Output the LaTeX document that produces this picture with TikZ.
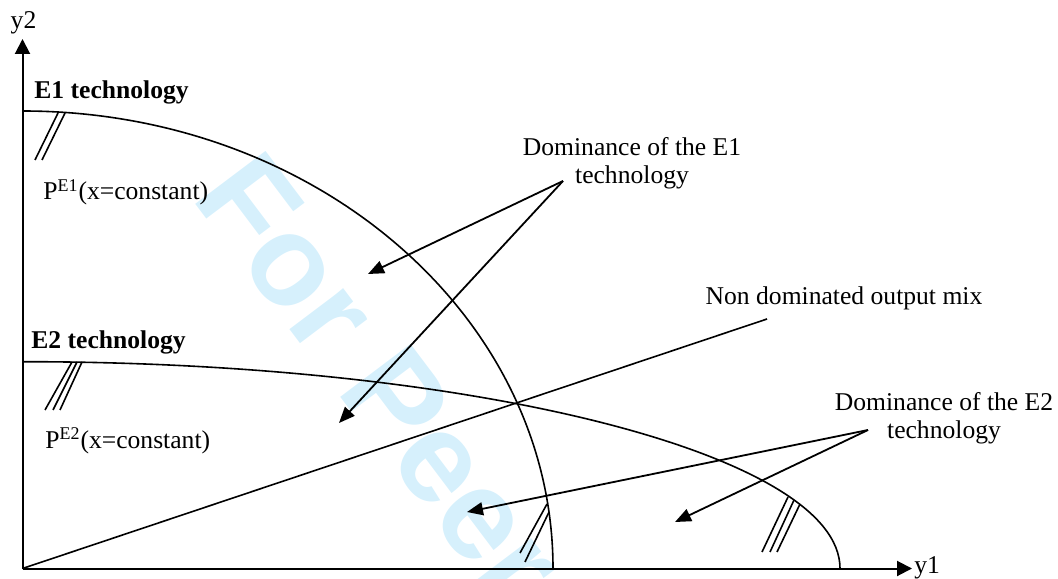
\documentclass[tikz,border=0pt]{standalone}
\usepackage{fontspec}
\setmainfont{Liberation Serif}
\newfontfamily\stampfont{Liberation Sans}
\usepackage{tikz}
\usetikzlibrary{arrows.meta}
\definecolor{stampcyan}{RGB}{214,240,252}

\begin{document}
\begin{tikzpicture}[x=0.5pt,y=0.5pt,
		every node/.style={inner sep=0pt,font=\fontsize{12.8}{14}\selectfont},
		curve/.style={line width=0.8pt},
		hatch/.style={line width=0.8pt},
		axis/.style={line width=1pt,-{Triangle[length=7.5pt,width=7.5pt]}},
		pointer/.style={line width=0.9pt,-{Triangle[length=8pt,width=6.5pt]}}]
		\useasboundingbox (0,0) rectangle (1058,578);
		\begin{scope}
			\clip (0,0) rectangle (1058,578);
			\node[anchor = base west, rotate = -53, text = stampcyan, font = \stampfont\bfseries\fontsize{64}{70}\selectfont] (stamp) at (190,381) {For Peer};
		\end{scope}
		\coordinate (O) at (22.5,9.5);
		\coordinate (ytip) at (22.5,539);
		\coordinate (xtip) at (912,9.5);
		\draw[axis] (O) -- (ytip);
		\draw[axis] (O) -- (xtip);
		\node[anchor = base] (ylab) at (23.5,549) {y2};
		\node[anchor = base west] (xlab) at (914,4.5) {y1};
		\draw[curve] (22.5,467) arc[start angle=90, end angle=0, x radius=265.25pt, y radius=228.75pt];
		\draw[curve] (22.5,216.3) arc[start angle=90, end angle=0, x radius=408.75pt, y radius=103.4pt];
		\foreach \a/\b/\c/\d in {58/465/35/418, 65/465/42/418, 547/74/520/25, 549/66/525/16}
			\draw[hatch] (\a,\b) -- (\c,\d);
		\foreach \a/\b/\c/\d in {72/216/45/168, 77/216/53/168, 82/216/60/168, 788/81/762/26, 794/78/770/26, 800/74/777/26}
			\draw[hatch] (\a,\b) -- (\c,\d);
		\node[font = \fontsize{12.8}{14}\selectfont\bfseries] (techEone) at (111.5,486) {E1 technology};
		\node[font = \fontsize{12.8}{14}\selectfont\bfseries] (techEtwo) at (108.5,236) {E2 technology};
		\node[anchor = base west] (frontEone) at (43,378) {P\textsuperscript{E1}(x=constant)};
		\node[anchor = base west] (frontEtwo) at (45,130) {P\textsuperscript{E2}(x=constant)};
		\node[align = center] (domEone) at (632,415) {Dominance of the E1\\technology};
		\node[align = center] (domEtwo) at (944,160) {Dominance of the E2\\technology};
		\node[anchor = base] (mix) at (844,273.7) {Non dominated output mix};
		\coordinate (fromEone) at (563,397);
		\coordinate (fromEtwo) at (868,148);
		\coordinate (mixend) at (767,259);
		\draw[curve] (O) -- (mixend);
		\draw[pointer] (fromEone) -- (368,304);
		\draw[pointer] (fromEone) -- (339,155);
		\draw[pointer] (fromEtwo) -- (467,66);
		\draw[pointer] (fromEtwo) -- (675,56);
	\end{tikzpicture}
\end{document}
